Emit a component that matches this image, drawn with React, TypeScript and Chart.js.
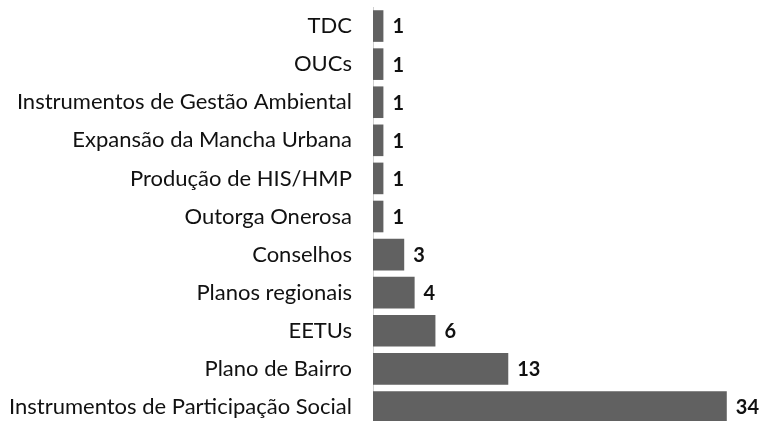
import React, { useEffect, useRef } from "react";
import { Chart, registerables } from "chart.js";

Chart.register(...registerables);

const categories = [
  "TDC",
  "OUCs",
  "Instrumentos de Gestão Ambiental",
  "Expansão da Mancha Urbana",
  "Produção de HIS/HMP",
  "Outorga Onerosa",
  "Conselhos",
  "Planos regionais",
  "EETUs",
  "Plano de Bairro",
  "Instrumentos de Participação Social",
];

const values = [1, 1, 1, 1, 1, 1, 3, 4, 6, 13, 34];

const valueLabelPlugin = {
  id: "valueLabels",
  afterDatasetsDraw(chart: any) {
    const ctx = chart.ctx;
    const meta = chart.getDatasetMeta(0);
    ctx.save();
    ctx.font = "bold 20px Lato";
    ctx.fillStyle = "#111111";
    ctx.textAlign = "left";
    ctx.textBaseline = "middle";
    meta.data.forEach((bar: any, i: number) => {
      ctx.fillText(String(values[i]), bar.x + 9, bar.y + 1);
    });
    ctx.restore();
  },
};

export default function App() {
  const ref = useRef<HTMLCanvasElement>(null);

  useEffect(() => {
    if (!ref.current) return;
    const chart = new Chart(ref.current, {
      type: "bar",
      data: {
        labels: categories,
        datasets: [
          {
            data: values,
            backgroundColor: "#616161",
            borderWidth: 0,
            categoryPercentage: 1,
            barPercentage: 0.83,
          },
        ],
      },
      options: {
        indexAxis: "y",
        responsive: false,
        animation: false,
        layout: { padding: { top: 7, bottom: 4, right: 3, left: 0 } },
        plugins: {
          legend: { display: false },
          tooltip: { enabled: false },
        },
        scales: {
          x: {
            display: false,
            min: 0,
            max: 37,
          },
          y: {
            afterFit(scale: any) {
              scale.width = 373;
              scale.paddingTop = 0;
              scale.paddingBottom = 0;
            },
            grid: { display: false, drawTicks: false },
            border: { display: true, color: "#d0d0d0", width: 1 },
            ticks: {
              padding: 21,
              color: "#111111",
              font: { family: "Lato", size: 22 },
            },
          },
        },
      },
      plugins: [valueLabelPlugin],
    });
    return () => chart.destroy();
  }, []);

  return (
    <div style={{ position: "fixed", left: 0, top: 0, width: 761, height: 430, background: "#fff" }}>
      <canvas ref={ref} width={761} height={430} style={{ display: "block" }} />
    </div>
  );
}
